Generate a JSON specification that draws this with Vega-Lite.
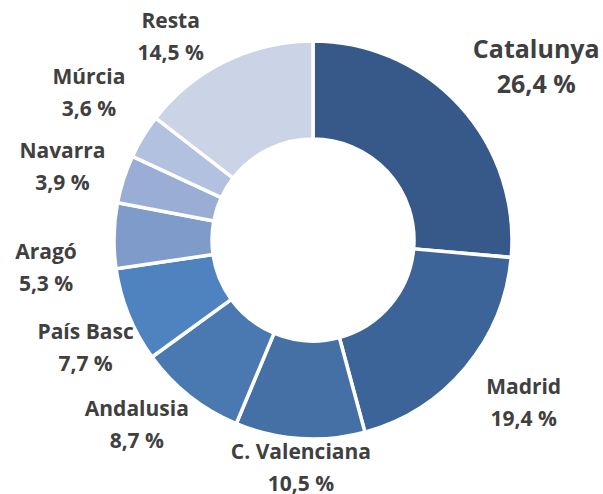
{
  "$schema": "https://vega.github.io/schema/vega-lite/v6.json",
  "width": 580,
  "height": 480,
  "autosize": "none",
  "padding": {"left": 23, "top": 0, "right": 0, "bottom": 14},
  "background": "white",
  "view": {"stroke": null},
  "config": {
    "text": {"font": "Open Sans", "fontWeight": "bold", "fontSize": 21, "lineHeight": 32, "lineBreak": "\n", "fill": "#404040", "baseline": "middle", "align": "center"}
  },
  "data": {
    "values": [
      {"region": "Catalunya", "pct": 26.4, "order": 1, "label": "Catalunya\n26,4 %"},
      {"region": "Madrid", "pct": 19.4, "order": 2, "label": "Madrid\n19,4 %"},
      {"region": "C. Valenciana", "pct": 10.5, "order": 3, "label": "C. Valenciana\n10,5 %"},
      {"region": "Andalusia", "pct": 8.7, "order": 4, "label": "Andalusia\n8,7 %"},
      {"region": "País Basc", "pct": 7.7, "order": 5, "label": "País Basc\n7,7 %"},
      {"region": "Aragó", "pct": 5.3, "order": 6, "label": "Aragó\n5,3 %"},
      {"region": "Navarra", "pct": 3.9, "order": 7, "label": "Navarra\n3,9 %"},
      {"region": "Múrcia", "pct": 3.6, "order": 8, "label": "Múrcia\n3,6 %"},
      {"region": "Resta", "pct": 14.5, "order": 9, "label": "Resta\n14,5 %"}
    ]
  },
  "encoding": {
    "theta": {"field": "pct", "type": "quantitative", "stack": true},
    "order": {"field": "order", "type": "quantitative"}
  },
  "layer": [
    {
      "mark": {"type": "arc", "innerRadius": 101, "outerRadius": 199, "stroke": "white", "strokeWidth": 3.5},
      "encoding": {
        "color": {
          "field": "region",
          "type": "nominal",
          "scale": {
            "domain": ["Catalunya", "Madrid", "C. Valenciana", "Andalusia", "País Basc", "Aragó", "Navarra", "Múrcia", "Resta"],
            "range": ["#36598A", "#3D6499", "#4470A5", "#4A79B1", "#4F83C0", "#7E9BC9", "#9AAED5", "#B2C1DF", "#CBD4E6"]
          },
          "legend": null
        }
      }
    },
    {
      "mark": {"type": "text", "radius": 281, "fontSize": 25, "lineHeight": 35, "dx": 16, "dy": 0},
      "encoding": {"text": {"condition": {"test": "datum.region === 'Catalunya'", "field": "label"}, "value": ""}}
    },
    {
      "mark": {"type": "text", "radius": 267, "dx": 6, "dy": -23},
      "encoding": {"text": {"condition": {"test": "datum.region === 'Madrid'", "field": "label"}, "value": ""}}
    },
    {
      "mark": {"type": "text", "radius": 229, "dx": 3, "dy": -16},
      "encoding": {"text": {"condition": {"test": "datum.region === 'C. Valenciana'", "field": "label"}, "value": ""}}
    },
    {
      "mark": {"type": "text", "radius": 255, "dx": -18, "dy": -30},
      "encoding": {"text": {"condition": {"test": "datum.region === 'Andalusia'", "field": "label"}, "value": ""}}
    },
    {
      "mark": {"type": "text", "radius": 252, "dx": 6, "dy": -2},
      "encoding": {"text": {"condition": {"test": "datum.region === 'País Basc'", "field": "label"}, "value": ""}}
    },
    {
      "mark": {"type": "text", "radius": 266, "dx": -1, "dy": 19},
      "encoding": {"text": {"condition": {"test": "datum.region === 'Aragó'", "field": "label"}, "value": ""}}
    },
    {
      "mark": {"type": "text", "radius": 260, "dx": -3, "dy": -8},
      "encoding": {"text": {"condition": {"test": "datum.region === 'Navarra'", "field": "label"}, "value": ""}}
    },
    {
      "mark": {"type": "text", "radius": 267, "dx": 4, "dy": -23},
      "encoding": {"text": {"condition": {"test": "datum.region === 'Múrcia'", "field": "label"}, "value": ""}}
    },
    {
      "mark": {"type": "text", "radius": 244, "dx": -35, "dy": 1},
      "encoding": {"text": {"condition": {"test": "datum.region === 'Resta'", "field": "label"}, "value": ""}}
    }
  ]
}
